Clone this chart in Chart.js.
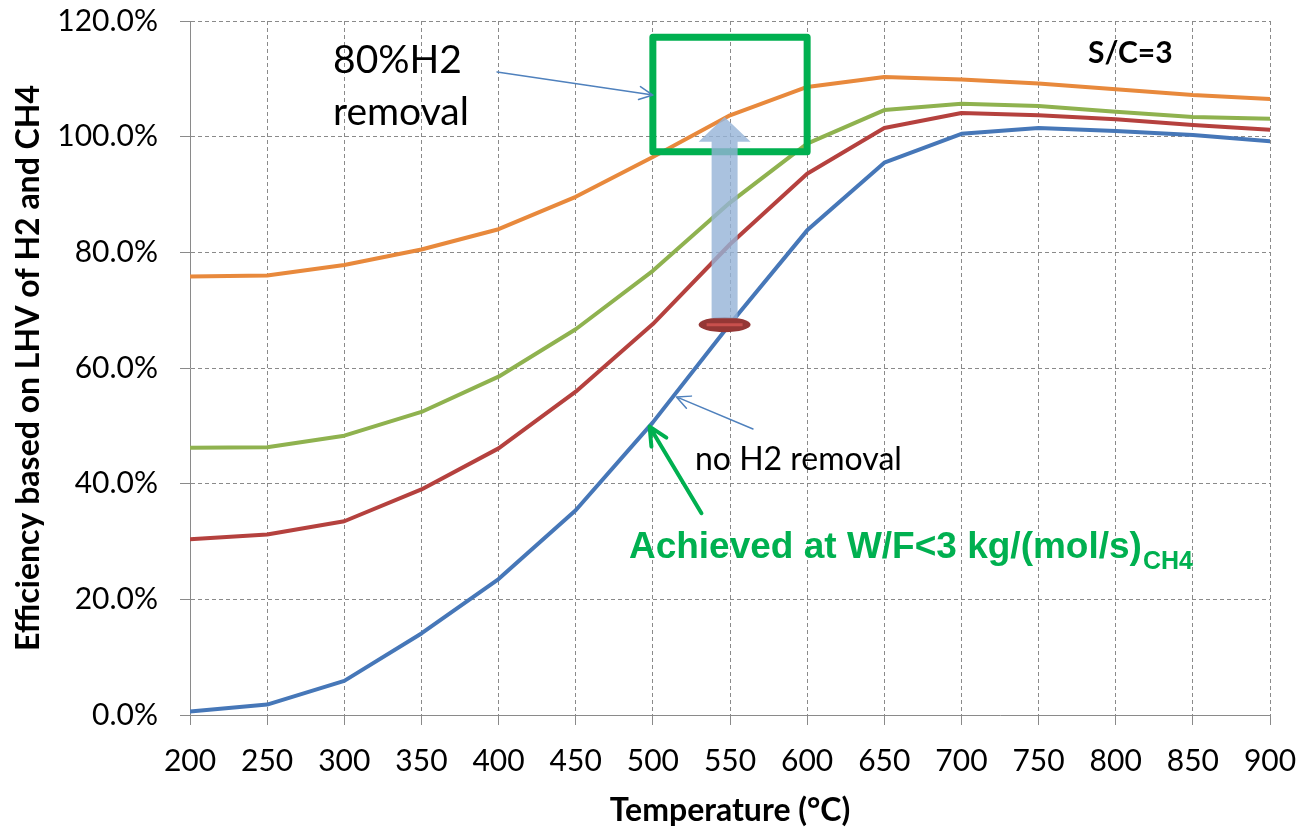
<!DOCTYPE html>
<html>
<head>
<meta charset="utf-8">
<script src="https://cdn.jsdelivr.net/npm/chart.js@4.4.1/dist/chart.umd.min.js"></script>
<style>
  html, body { margin: 0; padding: 0; background: #fff; }
  #wrap { width: 1301px; height: 830px; }
</style>
</head>
<body>
<div id="wrap"><canvas id="effChart" width="1301" height="830"></canvas></div>
<script>
// temperatures (°C) and efficiencies (%) on LHV basis
var temps = [200, 250, 300, 350, 400, 450, 500, 550, 600, 650, 700, 750, 800, 850, 900];
var noRemoval   = [0.6, 1.8, 5.9, 14.1, 23.5, 35.4, 50.6, 67.6, 83.8, 95.5, 100.5, 101.5, 101.0, 100.3, 99.2];
var redSeries   = [30.4, 31.2, 33.5, 39.0, 46.1, 55.9, 67.6, 81.4, 93.6, 101.5, 104.1, 103.7, 103.0, 102.0, 101.2];
var greenSeries = [46.2, 46.3, 48.3, 52.4, 58.5, 66.7, 76.8, 88.6, 98.8, 104.6, 105.7, 105.3, 104.3, 103.4, 103.1];
var removal80   = [75.8, 76.0, 77.8, 80.5, 84.0, 89.6, 96.5, 103.7, 108.6, 110.3, 109.9, 109.2, 108.2, 107.2, 106.5];
var yTicks = [0, 20, 40, 60, 80, 100, 120];

function pts(vals) {
  return vals.map(function(v, i) { return { x: temps[i], y: v }; });
}

var FONT = 'Lato, Carlito, sans-serif';
var GRID = '#8a8a8a';

// callouts, arrows and labels drawn on top of the curves
var notes = {
  id: 'notes',
  afterDatasetsDraw: function(chart) {
    var ctx = chart.ctx, xs = chart.scales.x, ys = chart.scales.y;
    function px(v) { return xs.getPixelForValue(v); }
    function py(v) { return ys.getPixelForValue(v); }
    function arrow(x1, y1, x2, y2, color, w, head) {
      var a = Math.atan2(y2 - y1, x2 - x1);
      ctx.strokeStyle = color;
      ctx.lineWidth = w;
      ctx.lineCap = 'round';
      ctx.beginPath();
      ctx.moveTo(x1, y1); ctx.lineTo(x2, y2);
      ctx.moveTo(x2 - head * Math.cos(a - 0.45), y2 - head * Math.sin(a - 0.45));
      ctx.lineTo(x2, y2);
      ctx.lineTo(x2 - head * Math.cos(a + 0.45), y2 - head * Math.sin(a + 0.45));
      ctx.stroke();
    }
    ctx.save();

    // green box around the peak region
    ctx.strokeStyle = '#00b050';
    ctx.lineWidth = 7;
    ctx.lineJoin = 'round';
    ctx.strokeRect(px(500), py(117.2), px(600) - px(500), py(97.4) - py(117.2));

    // red marker ellipse
    var ax = px(546.5), ey = py(67.5);
    ctx.beginPath();
    ctx.ellipse(ax, ey, 26, 7.5, 0, 0, Math.PI * 2);
    ctx.fillStyle = '#953735';
    ctx.fill();
    ctx.beginPath();
    ctx.moveTo(ax - 18, ey); ctx.lineTo(ax + 18, ey);
    ctx.strokeStyle = '#c9504d';
    ctx.lineWidth = 3;
    ctx.stroke();

    // translucent block arrow
    var y0 = py(68.6), yb = py(99.1), yt = py(103.4);
    ctx.fillStyle = 'rgba(149,179,215,0.8)';
    ctx.beginPath();
    ctx.moveTo(ax - 13, y0); ctx.lineTo(ax - 13, yb); ctx.lineTo(ax - 26, yb);
    ctx.lineTo(ax, yt);
    ctx.lineTo(ax + 26, yb); ctx.lineTo(ax + 13, yb); ctx.lineTo(ax + 13, y0);
    ctx.closePath();
    ctx.fill();

    // thin pointer arrows
    arrow(px(399), py(111.2), px(500), py(107.2), '#4f81bd', 1.5, 15);
    arrow(px(564.9), py(49.45), px(515.3), py(55.0), '#4f81bd', 1.5, 15);
    arrow(px(531.5), py(34.9), px(497.9), py(49.85), '#00b050', 4, 20);

    // labels
    ctx.fillStyle = '#000';
    ctx.textBaseline = 'alphabetic';
    ctx.textAlign = 'left';
    ctx.font = '39px ' + FONT;
    ctx.fillText('80%H2', px(292.7), py(111.0));
    ctx.fillText('removal', px(292.7), py(102.0));
    ctx.font = 'bold 30px ' + FONT;
    ctx.fillText('S/C=3', px(782), py(112.7));
    ctx.font = '32px ' + FONT;
    ctx.fillText('no H2 removal', px(527.3), py(42.4));

    ctx.fillStyle = '#00b050';
    ctx.font = 'bold 37px "Liberation Sans", Arial, sans-serif';
    var main = 'Achieved at W/F<3 kg/(mol/s)';
    var gx = px(484.5);
    ctx.fillText(main, gx, py(27.1));
    var mw = ctx.measureText(main).width;
    ctx.font = 'bold 25px "Liberation Sans", Arial, sans-serif';
    ctx.fillText('CH4', gx + mw + 1, py(25.2));

    ctx.restore();
  }
};

var ctx = document.getElementById('effChart').getContext('2d');
var chart = new Chart(ctx, {
  type: 'line',
  data: {
    datasets: [
      { label: '80% H2 removal', data: pts(removal80), borderColor: '#e8893c' },
      { label: 'green', data: pts(greenSeries), borderColor: '#8fb24f' },
      { label: 'red', data: pts(redSeries), borderColor: '#b5413e' },
      { label: 'no H2 removal', data: pts(noRemoval), borderColor: '#4677b8' }
    ]
  },
  options: {
    responsive: false,
    animation: false,
    devicePixelRatio: 1,
    layout: { padding: { left: 4, top: 21, right: 31, bottom: 0 } },
    elements: {
      point: { radius: 0 },
      line: { borderWidth: 4, tension: 0, fill: false, borderCapStyle: 'round', borderJoinStyle: 'round' }
    },
    plugins: {
      legend: { display: false },
      tooltip: { enabled: false }
    },
    scales: {
      x: {
        type: 'linear',
        min: 200,
        max: 900,
        afterBuildTicks: function(scale) {
          scale.ticks = temps.map(function(t) { return { value: t }; });
        },
        afterFit: function(scale) {
          scale.height = 115;
          // end labels fit inside the layout padding
          scale.paddingLeft = 0;
          scale.paddingRight = 0;
        },
        grid: { color: GRID, tickLength: 10, tickBorderDash: [] },
        border: { color: GRID, width: 1, dash: [4, 3] },
        ticks: {
          color: '#000',
          padding: 18,
          maxRotation: 0,
          font: { family: FONT, size: 30 }
        },
        title: {
          display: true,
          text: 'Temperature (°C)',
          color: '#000',
          padding: { top: 0, bottom: 0 },
          font: { family: FONT, size: 32, weight: 'bold' }
        }
      },
      y: {
        min: 0,
        max: 120,
        afterBuildTicks: function(scale) {
          scale.ticks = yTicks.map(function(t) { return { value: t }; });
        },
        afterFit: function(scale) {
          scale.width = 186;
          scale.paddingTop = 0;
          scale.paddingBottom = 0;
        },
        grid: { color: GRID, tickLength: 10, tickBorderDash: [] },
        border: { color: GRID, width: 1, dash: [4, 3] },
        ticks: {
          color: '#000',
          padding: 22,
          font: { family: FONT, size: 30 },
          callback: function(v) { return v.toFixed(1) + '%'; }
        },
        title: {
          display: true,
          text: 'Efficiency based on LHV of H2 and CH4',
          color: '#000',
          padding: { top: 5, bottom: 0 },
          font: { family: FONT, size: 32, weight: 'bold' }
        }
      }
    }
  },
  plugins: [notes]
});
</script>
</body>
</html>
